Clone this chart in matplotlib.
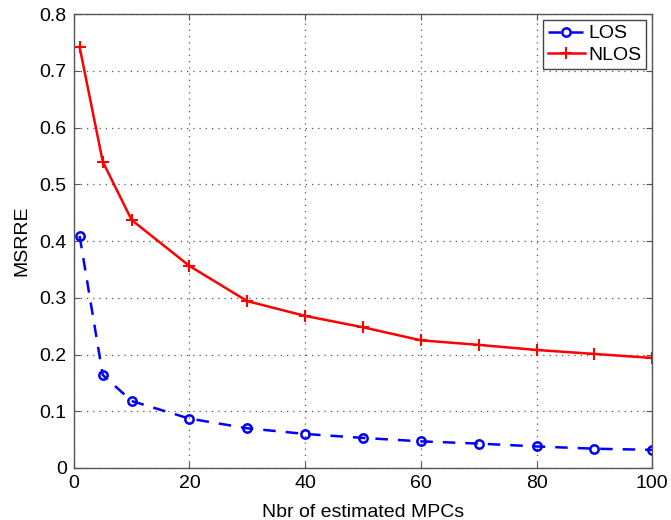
import numpy as np
import matplotlib
matplotlib.use('Agg')
import matplotlib.pyplot as plt

plt.rcParams['font.family'] = ['Liberation Sans', 'DejaVu Sans']

# number of estimated MPCs
nbr = [1, 5, 10, 20, 30, 40, 50, 60, 70, 80, 90, 100]
los = [0.409, 0.164, 0.118, 0.087, 0.070, 0.060, 0.053, 0.047, 0.043, 0.038, 0.034, 0.032]
nlos = [0.742, 0.540, 0.437, 0.356, 0.294, 0.268, 0.248, 0.225, 0.217, 0.208, 0.201, 0.194]

fig = plt.figure(figsize=(6.71, 5.2), dpi=100)
ax = fig.add_axes([0.110, 0.100, 0.862, 0.873])

ax.plot(nbr, los, '--o', color='blue', lw=1.8, ms=6, mfc='none', mew=1.8,
        dashes=(5, 4), label='LOS')
ax.plot(nbr, nlos, '-+', color='red', lw=1.8, ms=9, mew=1.5, label='NLOS')

ax.set_xlim(0, 100)
ax.set_ylim(0, 0.8)
ax.set_xticks(np.arange(0, 101, 20))
ax.set_yticks(np.arange(0, 0.81, 0.1))
ax.set_yticklabels(['0', '0.1', '0.2', '0.3', '0.4', '0.5', '0.6', '0.7', '0.8'])
ax.grid(True, ls=(0, (1, 4)), color='#555555', lw=0.9)
ax.tick_params(direction='in', top=True, right=True, labelsize=14, length=4,
               color='#555555', pad=5)
for s in ax.spines.values():
    s.set_color('#555555')
    s.set_linewidth(1.0)

ax.set_xlabel('Nbr of estimated MPCs', fontsize=14, labelpad=9)
ax.set_ylabel('MSRRE', fontsize=14, labelpad=7)

leg = ax.legend(loc='upper right', fontsize=14, fancybox=False, framealpha=1,
                edgecolor='#444444', borderaxespad=0.3, handlelength=1.9,
                borderpad=0.25, labelspacing=0.2, handletextpad=0.2)
leg.get_frame().set_linewidth(1.0)

fig.savefig('out.png', dpi=100)
